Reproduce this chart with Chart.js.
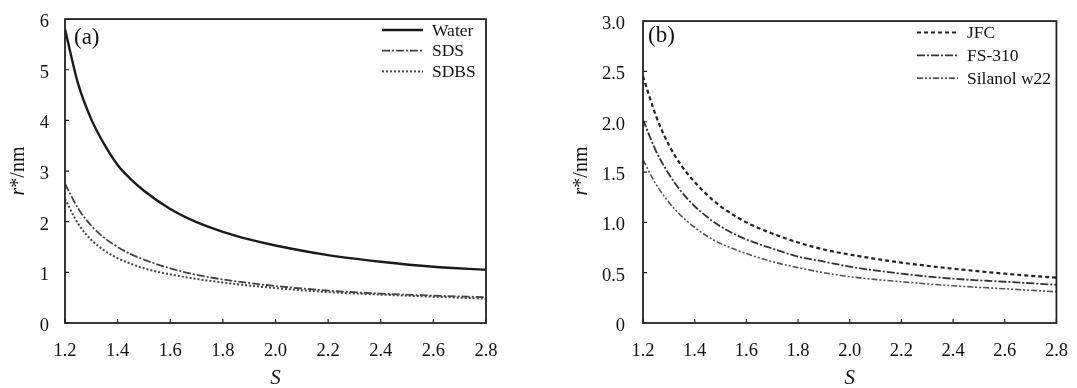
<!DOCTYPE html>
<html>
<head>
<meta charset="utf-8">
<script src="https://cdn.jsdelivr.net/npm/chart.js@4.4.0/dist/chart.umd.min.js"></script>
<style>
    html, body { margin: 0; padding: 0; background: #fff; }
    #wrap { position: relative; width: 1077px; height: 388px; }
    .panel { position: absolute; top: 0; height: 388px; }
</style>
</head>
<body>
<div id="wrap">
    <div class="panel" style="left:0;width:538px"><canvas id="chartA"></canvas></div>
    <div class="panel" style="left:538px;width:539px"><canvas id="chartB"></canvas></div>
</div>
<script>
// supersaturation S (x axis)
const sValues = [1.2, 1.25, 1.3, 1.35, 1.4, 1.45, 1.5, 1.6, 1.7, 1.8, 1.9, 2.0, 2.2, 2.4, 2.6, 2.8];

// panel (a), r*/nm
const water = [5.8, 4.72, 4.02, 3.52, 3.12, 2.84, 2.61, 2.25, 1.99, 1.8, 1.65, 1.53, 1.34, 1.21, 1.11, 1.05];
const sds   = [2.75, 2.26, 1.92, 1.68, 1.5, 1.36, 1.25, 1.08, 0.95, 0.86, 0.79, 0.73, 0.64, 0.58, 0.54, 0.51];
const sdbs  = [2.45, 1.96, 1.64, 1.43, 1.28, 1.17, 1.08, 0.96, 0.87, 0.8, 0.74, 0.69, 0.61, 0.56, 0.52, 0.48];

// panel (b), r*/nm
const jfc     = [2.45, 2.06, 1.77, 1.56, 1.4, 1.27, 1.16, 1.0, 0.89, 0.8, 0.73, 0.68, 0.6, 0.54, 0.49, 0.45];
const fs310   = [2.02, 1.71, 1.48, 1.3, 1.16, 1.05, 0.96, 0.83, 0.74, 0.66, 0.61, 0.56, 0.49, 0.44, 0.41, 0.38];
const silanol = [1.62, 1.38, 1.2, 1.06, 0.95, 0.86, 0.79, 0.69, 0.61, 0.55, 0.5, 0.46, 0.41, 0.37, 0.34, 0.31];

const xTicks = [1.2, 1.4, 1.6, 1.8, 2.0, 2.2, 2.4, 2.6, 2.8];
const yTicksA = [0, 1, 2, 3, 4, 5, 6];
const yTicksB = [0, 0.5, 1.0, 1.5, 2.0, 2.5, 3.0];

const SERIF = '"Liberation Serif", "DejaVu Serif", serif';

function toPoints(ys) {
    return sValues.map((s, i) => ({ x: s, y: ys[i] }));
}

function makeSet(label, ys, color, width, dash) {
    return {
        label: label,
        data: toPoints(ys),
        borderColor: color,
        borderWidth: width,
        borderDash: dash,
        pointRadius: 0,
        fill: false,
        cubicInterpolationMode: 'monotone'
    };
}

// frame, inward ticks, axis titles, panel tag and legend
function decorPlugin(cfg) {
    return {
        id: 'decor',
        afterDraw(chart) {
            const ctx = chart.ctx;
            const a = chart.chartArea;
            const xs = chart.scales.x, ys = chart.scales.y;
            ctx.save();
            ctx.strokeStyle = '#222';
            ctx.lineWidth = 1.8;
            ctx.strokeRect(a.left, a.top, a.right - a.left, a.bottom - a.top);

            ctx.lineWidth = 1.2;
            ctx.beginPath();
            xTicks.forEach(v => {
                const px = xs.getPixelForValue(v);
                ctx.moveTo(px, a.bottom);
                ctx.lineTo(px, a.bottom - 4);
            });
            cfg.yTicks.forEach(v => {
                const py = ys.getPixelForValue(v);
                ctx.moveTo(a.left, py);
                ctx.lineTo(a.left + 4, py);
            });
            ctx.stroke();

            // x title
            ctx.fillStyle = '#111';
            ctx.font = 'italic 21px ' + SERIF;
            ctx.textAlign = 'center';
            ctx.textBaseline = 'middle';
            ctx.fillText('S', (a.left + a.right) / 2, 378);

            // y title: italic r, rest upright
            ctx.save();
            ctx.translate(cfg.yTitleX, 171);
            ctx.rotate(-Math.PI / 2);
            ctx.font = 'italic 20px ' + SERIF;
            const w1 = ctx.measureText('r').width;
            ctx.font = '20px ' + SERIF;
            const w2 = ctx.measureText('*/nm').width;
            ctx.textAlign = 'left';
            ctx.font = 'italic 20px ' + SERIF;
            ctx.fillText('r', -(w1 + w2) / 2, 0);
            ctx.font = '20px ' + SERIF;
            ctx.fillText('*/nm', -(w1 + w2) / 2 + w1, 0);
            ctx.restore();

            // panel tag
            ctx.font = '23px ' + SERIF;
            ctx.textAlign = 'left';
            ctx.fillText(cfg.tag, a.left + cfg.tagDx, cfg.tagY);

            // legend
            ctx.font = '17.5px ' + SERIF;
            chart.data.datasets.forEach((ds, i) => {
                const y = cfg.legendY + i * cfg.legendGap;
                ctx.strokeStyle = ds.borderColor;
                ctx.lineWidth = ds.borderWidth;
                ctx.setLineDash(ds.borderDash || []);
                ctx.beginPath();
                ctx.moveTo(cfg.legendX, y);
                ctx.lineTo(cfg.legendX + 41, y);
                ctx.stroke();
                ctx.setLineDash([]);
                ctx.fillStyle = '#111';
                ctx.textAlign = 'left';
                ctx.fillText(ds.label, cfg.legendX + 50, y + 1);
            });
            ctx.restore();
        }
    };
}

function buildChart(id, sets, yMax, yStep, yTicks, pad, deco) {
    return new Chart(document.getElementById(id), {
        type: 'line',
        data: { datasets: sets },
        options: {
            responsive: true,
            maintainAspectRatio: false,
            animation: false,
            layout: { padding: pad },
            plugins: {
                legend: { display: false },
                tooltip: { enabled: false }
            },
            scales: {
                x: {
                    type: 'linear',
                    min: 1.2,
                    max: 2.8,
                    grid: { display: false },
                    border: { display: false },
                    afterBuildTicks: sc => { sc.ticks = xTicks.map(v => ({ value: v })); },
                    afterFit: sc => { sc.height = 65; },
                    ticks: {
                        color: '#111',
                        font: { family: SERIF, size: 18.5 },
                        padding: 9,
                        maxRotation: 0,
                        callback: v => v.toFixed(1)
                    }
                },
                y: {
                    min: 0,
                    max: yMax,
                    grid: { display: false },
                    border: { display: false },
                    afterBuildTicks: sc => { sc.ticks = yTicks.map(v => ({ value: v })); },
                    afterFit: sc => { sc.width = deco.yWidth; },
                    ticks: {
                        color: '#111',
                        font: { family: SERIF, size: 18.5 },
                        padding: deco.yPad,
                        labelOffset: 3,
                        callback: v => v === 0 ? '0' : (yStep < 1 ? v.toFixed(1) : String(v))
                    }
                }
            }
        },
        plugins: [decorPlugin(Object.assign({ yTicks: yTicks }, deco))]
    });
}

buildChart('chartA', [
    makeSet('Water', water, '#1a1a1a', 2.4, []),
    makeSet('SDS', sds, '#444', 1.8, [8, 2, 2, 2]),
    makeSet('SDBS', sdbs, '#444', 2, [2, 2])
], 6, 1, yTicksA, { top: 15, right: 52, left: 0, bottom: 0 },
   { tag: '(a)', tagDx: 9, tagY: 38, yTitleX: 19, yWidth: 65, yPad: 8,
     legendX: 382, legendY: 30, legendGap: 20.7 });

buildChart('chartB', [
    makeSet('JFC', jfc, '#222', 2.2, [4, 3]),
    makeSet('FS-310', fs310, '#333', 1.8, [8, 2, 2, 2]),
    makeSet('Silanol w22', silanol, '#555', 1.6, [6, 2, 2, 2, 2, 2])
], 3, 0.5, yTicksB, { top: 15, right: 15, left: 0, bottom: 0 },
   { tag: '(b)', tagDx: 5, tagY: 36, yTitleX: 44, yWidth: 105, yPad: 10,
     legendX: 379, legendY: 32.5, legendGap: 22.8 });
</script>
</body>
</html>
